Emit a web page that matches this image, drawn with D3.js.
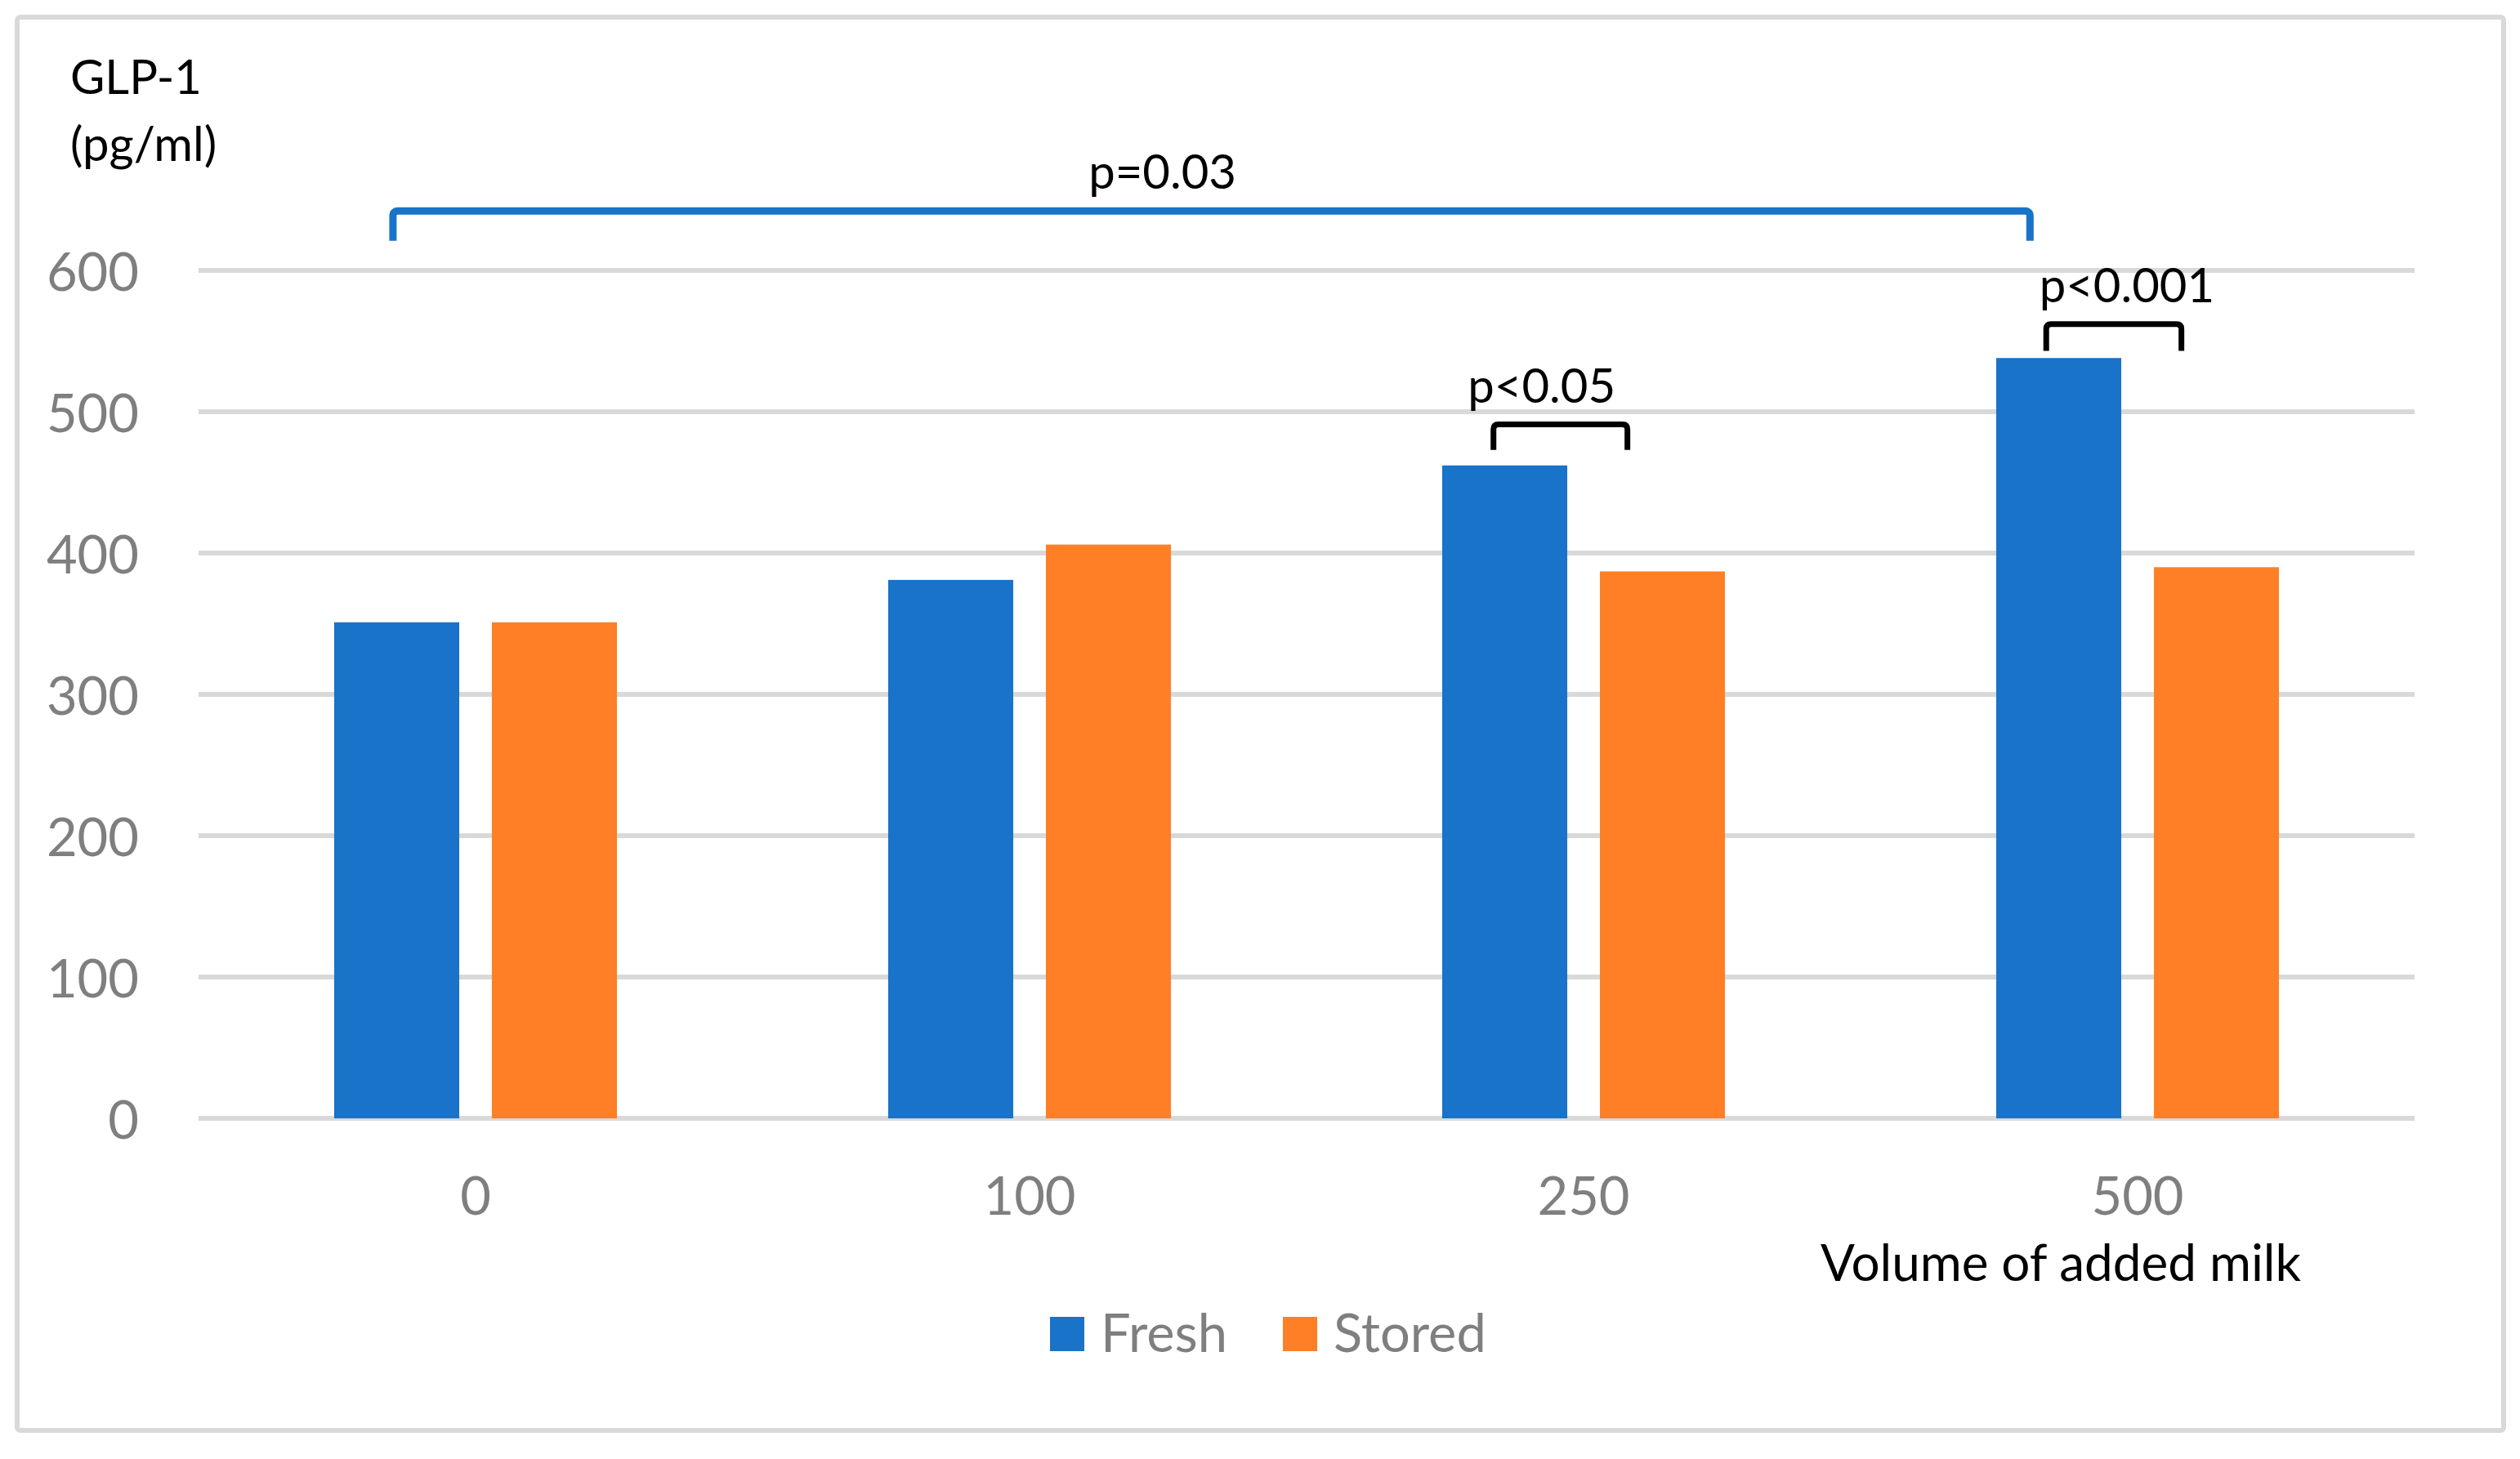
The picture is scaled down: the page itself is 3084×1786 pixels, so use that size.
<!DOCTYPE html>
<html>
<head>
  <meta charset="utf-8">
  <title>GLP-1 by volume of added milk</title>
  <script src="https://d3js.org/d3.v7.min.js"></script>
  <style>
    body { margin: 0; background: #fff; font-family: Lato, "Noto Sans", sans-serif; }
    .grid line { stroke: #d9d9d9; stroke-width: 6; }
    .tick-label { fill: #7f7f7f; font-size: 65px; }
    .note { fill: #000; font-size: 58px; }
  </style>
</head>
<body>
  <svg width="3084" height="1786"></svg>

  <script>
    // data
    const volumes = ["0", "100", "250", "500"];
    const seriesNames = ["Fresh", "Stored"];
    const fresh = [351, 381, 462, 538];
    const stored = [351, 406, 387, 390];
    const yTicks = [0, 100, 200, 300, 400, 500, 600];
    const colors = ["#1873c9", "#ff7f27"];

    // significance brackets: from bar -> to bar, top/bottom in GLP-1 units
    const brackets = [
      { from: ["0", "Fresh"], to: ["500", "Fresh"], top: 642, bottom: 621, label: "p=0.03", color: "#1873c9", width: 9 },
      { from: ["250", "Fresh"], to: ["250", "Stored"], top: 491, bottom: 473, label: "p<0.05", color: "#000", width: 7 },
      { from: ["500", "Fresh"], to: ["500", "Stored"], top: 562, bottom: 543, label: "p<0.001", color: "#000", width: 7 }
    ];
    // where along each bar the bracket legs sit, and label nudges
    const legFrac = [[0.47, 0.27], [0.41, 0.22], [0.40, 0.22]];
    const labelDx = [-60, -23, 16];

    const svg = d3.select("svg");

    // outer chart border
    svg.append("rect")
      .attr("x", 21).attr("y", 21)
      .attr("width", 3043).attr("height", 1730)
      .attr("rx", 4)
      .attr("fill", "none")
      .attr("stroke", "#d9d9d9")
      .attr("stroke-width", 6);

    const x = d3.scaleBand().domain(volumes).range([243, 2955]).padding(0);
    const xs = d3.scaleBand().domain(seriesNames).range([0, x.bandwidth()])
      .paddingInner(0.207).paddingOuter(0.86);
    const y = d3.scaleLinear().domain([0, 600]).range([1369, 331]);

    // gridlines
    svg.append("g").attr("class", "grid")
      .selectAll("line").data(yTicks).join("line")
      .attr("x1", 243).attr("x2", 2955)
      .attr("y1", d => y(d)).attr("y2", d => y(d));

    // y tick labels
    svg.append("g").selectAll("text").data(yTicks).join("text")
      .attr("class", "tick-label")
      .attr("x", 170).attr("y", d => y(d))
      .attr("text-anchor", "end")
      .attr("dominant-baseline", "central")
      .text(d => d);

    // bars
    const rows = volumes.map((v, i) => ({ v, vals: [fresh[i], stored[i]] }));
    const groups = svg.append("g").selectAll("g").data(rows).join("g")
      .attr("transform", d => `translate(${x(d.v)},0)`);
    groups.selectAll("rect").data(d => d.vals.map((val, j) => ({ s: seriesNames[j], val, j })))
      .join("rect")
      .attr("x", d => xs(d.s))
      .attr("width", xs.bandwidth())
      .attr("y", d => y(d.val))
      .attr("height", d => y(0) - y(d.val))
      .attr("fill", d => colors[d.j]);

    // x tick labels
    svg.append("g").selectAll("text").data(volumes).join("text")
      .attr("class", "tick-label")
      .attr("x", d => x(d) + x.bandwidth() / 2)
      .attr("y", 1487)
      .attr("text-anchor", "middle")
      .text(d => d);

    svg.append("text").attr("class", "note")
      .attr("x", 2522).attr("y", 1568)
      .attr("text-anchor", "middle")
      .style("font-size", "62px")
      .text("Volume of added milk");

    // y axis title
    svg.append("text").attr("class", "note").attr("x", 86).attr("y", 115).text("GLP-1");
    svg.append("text").attr("class", "note").attr("x", 86).attr("y", 197).text("(pg/ml)");

    // legend
    const legend = svg.append("g").selectAll("g").data(seriesNames).join("g")
      .attr("transform", (d, i) => `translate(${[1285, 1570][i]},1612)`);
    legend.append("rect").attr("width", 42).attr("height", 42).attr("fill", (d, i) => colors[i]);
    legend.append("text").attr("class", "tick-label")
      .attr("x", 62).attr("y", 43).text(d => d);

    // significance brackets
    const legX = (ref, f) => x(ref[0]) + xs(ref[1]) + f * xs.bandwidth();
    brackets.forEach((b, i) => {
      const x1 = legX(b.from, legFrac[i][0]);
      const x2 = legX(b.to, legFrac[i][1]);
      const yt = y(b.top), yb = y(b.bottom);
      const r = 6;
      svg.append("path")
        .attr("d", `M${x1},${yb} L${x1},${yt + r} Q${x1},${yt} ${x1 + r},${yt} L${x2 - r},${yt} Q${x2},${yt} ${x2},${yt + r} L${x2},${yb}`)
        .attr("fill", "none")
        .attr("stroke", b.color)
        .attr("stroke-width", b.width);
      svg.append("text").attr("class", "note")
        .attr("x", (x1 + x2) / 2 + labelDx[i])
        .attr("y", yt - 27)
        .attr("text-anchor", "middle")
        .text(b.label);
    });
  </script>
</body>
</html>
